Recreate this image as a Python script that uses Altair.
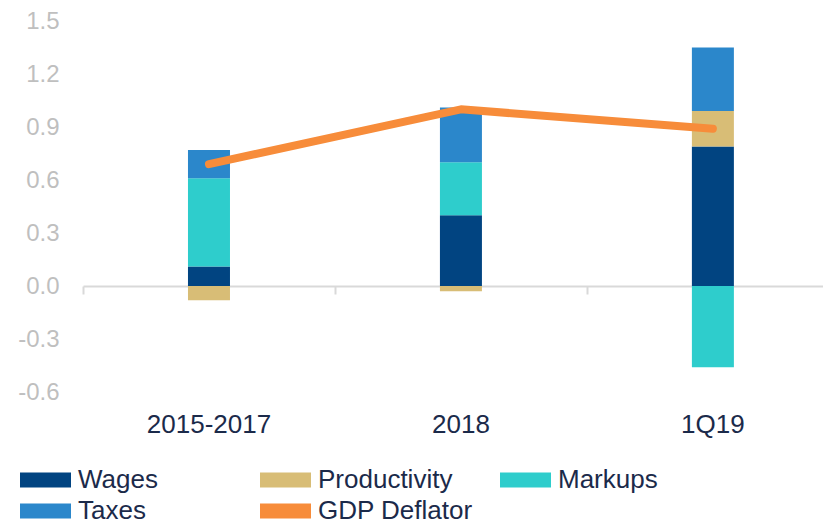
import altair as alt
import pandas as pd

categories = ["2015-2017", "2018", "1Q19"]
wages = [0.11, 0.40, 0.79]
productivity = [-0.08, -0.03, 0.20]
markups = [0.50, 0.30, -0.46]
taxes = [0.16, 0.31, 0.36]
gdp_deflator = [0.69, 1.00, 0.89]

series_names = ["Wages", "Productivity", "Markups", "Taxes", "GDP Deflator"]
series_colors = ["#014481", "#d8bd76", "#2ecdcc", "#2b87cb", "#f78c3a"]
y_ticks = [-0.6, -0.3, 0.0, 0.3, 0.6, 0.9, 1.2, 1.5]

rows = []
for name, vals in zip(series_names[:4], [wages, productivity, markups, taxes]):
    for i, (c, v) in enumerate(zip(categories, vals)):
        rows.append({"cat": c, "series": name, "value": v, "ord": series_names.index(name)})
bars_df = pd.DataFrame(rows)
line_df = pd.DataFrame({"cat": categories, "series": "GDP Deflator", "value": gdp_deflator})

FONT = "Liberation Sans"
color_scale = alt.Scale(domain=series_names, range=series_colors)
x_scale = alt.Scale(domain=categories, paddingInner=0.126, paddingOuter=0.0315, align=1)
y_scale = alt.Scale(domain=[-0.6, 1.5], nice=False, zero=False)

legend = alt.Legend(
    title=None, orient="none", legendX=-50.5, legendY=446, direction="horizontal",
    columns=3, gridAlign="all", columnPadding=26, rowPadding=5,
    symbolType="M-2.125,-0.625L2.125,-0.625L2.125,0.625L-2.125,0.625Z", symbolSize=576,
    symbolStrokeWidth=0,
    labelFont=FONT, labelFontSize=26, labelColor="#1b2a4a", labelLimit=300, labelOffset=19.5,
)

bars = alt.Chart(bars_df).mark_bar(size=42).encode(
    x=alt.X("cat:N", scale=x_scale, sort=categories,
            axis=alt.Axis(orient="bottom", title=None, domain=False, ticks=False, labelAngle=0,
                          labelFont=FONT, labelFontSize=26, labelColor="#1b2a4a", labelPadding=19)),
    y=alt.Y("value:Q", scale=y_scale, stack="zero",
            axis=alt.Axis(title=None, values=y_ticks, grid=False, domain=False, ticks=False,
                          labelExpr="replace(format(datum.value, '.1f'), '\u2212', '-')",
                          labelFont=FONT, labelFontSize=24, labelColor="#bfbfbf", labelPadding=24)),
    color=alt.Color("series:N", scale=color_scale, sort=series_names, legend=legend),
    order=alt.Order("ord:Q", sort="ascending"),
)

line = alt.Chart(line_df).mark_line(strokeWidth=8, strokeCap="round", strokeJoin="round").encode(
    x=alt.X("cat:N", scale=x_scale, sort=categories,
            axis=alt.Axis(orient="bottom", title=None, labels=False, domain=True, domainColor="#d9d9d9",
                          domainWidth=2, ticks=True, tickOffset=-126, tickColor="#d9d9d9",
                          tickWidth=2, tickSize=8, offset=-106)),
    y=alt.Y("value:Q", scale=y_scale),
    color=alt.Color("series:N", scale=color_scale, sort=series_names, legend=legend),
)

chart = alt.layer(bars, line).resolve_axis(x="independent").properties(
    width=740, height=371,
    autosize=alt.AutoSizeParams(type="none"),
    padding={"left": 75, "top": 13, "right": 0, "bottom": 132},
).configure_view(stroke=None)

chart.save("out.html", embed_options={"renderer": "svg", "actions": False})
